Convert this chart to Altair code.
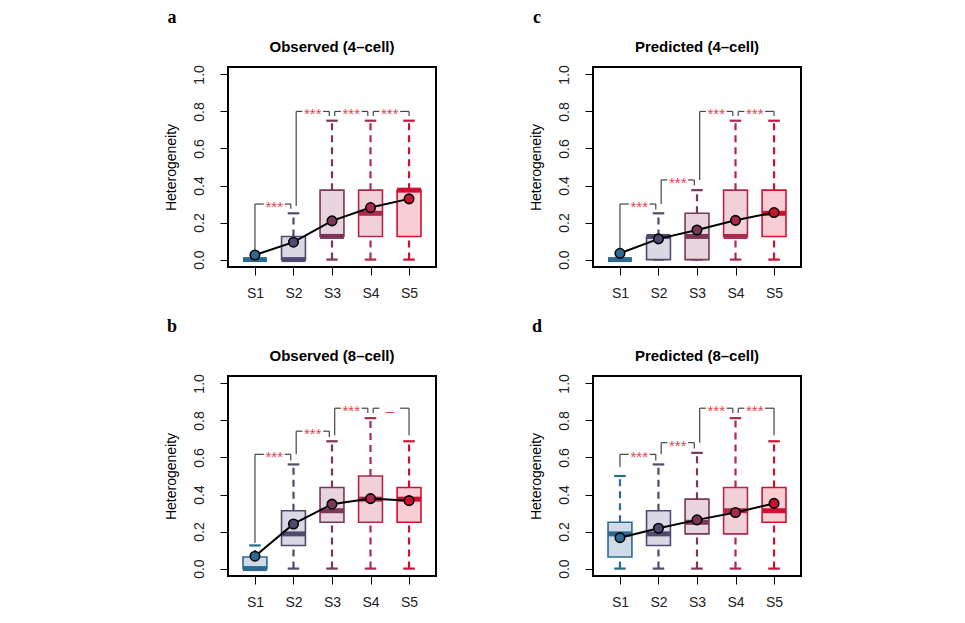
import altair as alt
import pandas as pd

# ---------------- data ----------------
stages = ["S1", "S2", "S3", "S4", "S5"]
positions = [1, 2, 3, 4, 5]
stroke_colors = ["#2c6a90", "#4f4a6e", "#7b3757", "#ad2a4b", "#cf1130"]
fill_colors = ["#cfdce8", "#d9d8e4", "#e7d4dc", "#f1d0d7", "#f8ced4"]
star_color = "#e8414f"
bracket_color = "#444444"

panel_letters = ["a", "c", "b", "d"]
panel_titles = ["Observed (4\u2013cell)", "Predicted (4\u2013cell)",
                "Observed (8\u2013cell)", "Predicted (8\u2013cell)"]

y_ticks = [0.0, 0.2, 0.4, 0.6, 0.8, 1.0]

# Observed (4-cell)
obs4_lo = [0, 0, 0, 0, 0]
obs4_q1 = [0, 0, 0.125, 0.125, 0.125]
obs4_med = [0, 0, 0.125, 0.25, 0.375]
obs4_q3 = [0, 0.125, 0.375, 0.375, 0.375]
obs4_hi = [0, 0.25, 0.75, 0.75, 0.75]
obs4_mean = [0.025, 0.094, 0.209, 0.281, 0.328]
# (from, to, level, left leg bottom, right leg bottom, label)
obs4_brackets = [(1, 2, 0.30, 0.05, 0.275, "***"),
                 (2, 3, 0.80, 0.29, 0.775, "***"),
                 (3, 4, 0.80, 0.775, 0.775, "***"),
                 (4, 5, 0.80, 0.775, 0.775, "***")]

# Predicted (4-cell)
pred4_lo = [0, 0, 0, 0, 0]
pred4_q1 = [0, 0, 0, 0.125, 0.125]
pred4_med = [0, 0.125, 0.125, 0.125, 0.25]
pred4_q3 = [0, 0.125, 0.25, 0.375, 0.375]
pred4_hi = [0, 0.25, 0.375, 0.75, 0.75]
pred4_mean = [0.034, 0.112, 0.16, 0.212, 0.254]
pred4_brackets = [(1, 2, 0.30, 0.06, 0.27, "***"),
                  (2, 3, 0.43, 0.30, 0.40, "***"),
                  (3, 4, 0.80, 0.43, 0.775, "***"),
                  (4, 5, 0.80, 0.775, 0.775, "***")]

# Observed (8-cell)
obs8_lo = [0, 0, 0, 0, 0]
obs8_q1 = [0, 0.125, 0.25, 0.25, 0.25]
obs8_med = [0, 0.1875, 0.3125, 0.375, 0.375]
obs8_q3 = [0.0625, 0.3125, 0.4375, 0.5, 0.4375]
obs8_hi = [0.125, 0.5625, 0.6875, 0.8125, 0.6875]
obs8_mean = [0.067, 0.241, 0.348, 0.378, 0.367]
obs8_brackets = [(1, 2, 0.617, 0.14, 0.584, "***"),
                 (2, 3, 0.742, 0.617, 0.71, "***"),
                 (3, 4, 0.866, 0.72, 0.84, "***"),
                 (4, 5, 0.866, 0.84, 0.72, "\u2013")]

# Predicted (8-cell)
pred8_lo = [0, 0, 0, 0, 0]
pred8_q1 = [0.0625, 0.125, 0.1875, 0.1875, 0.25]
pred8_med = [0.1875, 0.1875, 0.25, 0.3125, 0.3125]
pred8_q3 = [0.25, 0.3125, 0.375, 0.4375, 0.4375]
pred8_hi = [0.5, 0.5625, 0.625, 0.8125, 0.6875]
pred8_mean = [0.167, 0.218, 0.263, 0.303, 0.352]
pred8_brackets = [(1, 2, 0.617, 0.548, 0.584, "***"),
                  (2, 3, 0.68, 0.617, 0.648, "***"),
                  (3, 4, 0.866, 0.68, 0.84, "***"),
                  (4, 5, 0.866, 0.84, 0.72, "***")]

# ---------------- styling constants ----------------
HALF_BOX = 0.31
HALF_CAP = 0.15
LEG_OFF = 0.07
GAP = 0.27
FONT = "Liberation Sans"
W, H = 208, 200

x_scale = alt.Scale(domain=[0.3, 5.7], nice=False, zero=False)
y_scale = alt.Scale(domain=[-0.04, 1.04], nice=False, zero=False)
label_expr = "[" + ",".join("'%s'" % s for s in stages) + "][datum.value - 1]"
x_axis = alt.Axis(values=positions, labelExpr=label_expr, title=None,
                  tickSize=8, labelPadding=11, labelFontSize=14)
y_axis = alt.Axis(values=y_ticks, format=".1f", title="Heterogeneity",
                  labelAngle=270, labelAlign="center", labelBaseline="bottom",
                  tickSize=8, labelPadding=14, labelFontSize=14,
                  titleFontSize=14, titleFontWeight="normal", titlePadding=14)


def X(field):
    return alt.X(field, type="quantitative", scale=x_scale, axis=x_axis)


def Y(field):
    return alt.Y(field, type="quantitative", scale=y_scale, axis=y_axis)


color_enc = alt.Color("stage:N", scale=alt.Scale(domain=stages, range=stroke_colors), legend=None)
stroke_enc = alt.Stroke("stage:N", scale=alt.Scale(domain=stages, range=stroke_colors), legend=None)
fill_enc = alt.Fill("stage:N", scale=alt.Scale(domain=stages, range=fill_colors), legend=None)


def bracket_tables(brackets):
    nodes_left = {b[0] for b in brackets}
    nodes_right = {b[1] for b in brackets}
    segs, labels = [], []
    for (i, j, level, lb, rb, lab) in brackets:
        xl = i + (LEG_OFF if i in nodes_right else 0)
        xr = j - (LEG_OFF if j in nodes_left else 0)
        mid = (i + j) / 2
        segs.append({"x": xl, "x2": xl, "y": lb, "y2": level})
        segs.append({"x": xr, "x2": xr, "y": rb, "y2": level})
        segs.append({"x": xl, "x2": mid - GAP, "y": level, "y2": level})
        segs.append({"x": mid + GAP, "x2": xr, "y": level, "y2": level})
        labels.append({"x": mid, "y": level, "label": lab})
    return pd.DataFrame(segs), pd.DataFrame(labels)


def panel(letter, title, lo, q1, med, q3, hi, mean, brackets):
    df = pd.DataFrame({"stage": stages, "pos": positions, "lo": lo, "q1": q1,
                       "med": med, "q3": q3, "hi": hi, "mean": mean})
    base = alt.Chart(df).transform_calculate(
        xl="datum.pos - %f" % HALF_BOX, xr="datum.pos + %f" % HALF_BOX,
        cl="datum.pos - %f" % HALF_CAP, cr="datum.pos + %f" % HALF_CAP)

    whisk_up = base.mark_rule(strokeWidth=2.2, strokeDash=[7, 5]).encode(
        x=X("pos"), y=Y("q3"), y2="hi", color=color_enc)
    whisk_dn = base.mark_rule(strokeWidth=2.2, strokeDash=[7, 5]).encode(
        x=X("pos"), y=Y("lo"), y2="q1", color=color_enc)
    cap_up = base.mark_rule(strokeWidth=2.2).encode(
        x=X("cl"), x2="cr", y=Y("hi"), color=color_enc)
    cap_dn = base.mark_rule(strokeWidth=2.2).encode(
        x=X("cl"), x2="cr", y=Y("lo"), color=color_enc)
    box = base.mark_rect(strokeWidth=1.6).encode(
        x=X("xl"), x2="xr", y=Y("q1"), y2="q3", fill=fill_enc, stroke=stroke_enc)
    median = base.mark_rule(strokeWidth=5).encode(
        x=X("xl"), x2="xr", y=Y("med"), color=color_enc)

    seg_df, lab_df = bracket_tables(brackets)
    br = alt.Chart(seg_df).mark_rule(color=bracket_color, strokeWidth=1.2).encode(
        x=X("x"), x2="x2", y=Y("y"), y2="y2")
    stars = alt.Chart(lab_df).mark_text(color=star_color, fontSize=15, font=FONT,
                                        baseline="middle", dy=3).encode(
        x=X("x"), y=Y("y"), text="label:N")

    mline = base.mark_line(color="black", strokeWidth=2).encode(
        x=X("pos"), y=Y("mean"), order="pos:Q")
    mpts = base.mark_circle(size=90, opacity=1, stroke="black", strokeWidth=1.6).encode(
        x=X("pos"), y=Y("mean"), color=color_enc)

    head = pd.DataFrame({"letter": [letter], "title": [title]})
    letter_layer = alt.Chart(head).mark_text(
        font="Liberation Serif", fontWeight="bold", fontSize=18, color="black",
        baseline="middle", align="center").encode(
        x=alt.value(-56), y=alt.value(-49), text="letter:N")
    title_layer = alt.Chart(head).mark_text(
        font=FONT, fontWeight="bold", fontSize=15, color="black",
        baseline="middle", align="center").encode(
        x=alt.value(W / 2), y=alt.value(-20), text="title:N")

    return alt.layer(whisk_up, whisk_dn, cap_up, cap_dn, box, median, br, stars,
                     mline, mpts, letter_layer, title_layer).properties(width=W, height=H)


pa = panel(panel_letters[0], panel_titles[0], obs4_lo, obs4_q1, obs4_med, obs4_q3,
           obs4_hi, obs4_mean, obs4_brackets)
pc = panel(panel_letters[1], panel_titles[1], pred4_lo, pred4_q1, pred4_med, pred4_q3,
           pred4_hi, pred4_mean, pred4_brackets)
pb = panel(panel_letters[2], panel_titles[2], obs8_lo, obs8_q1, obs8_med, obs8_q3,
           obs8_hi, obs8_mean, obs8_brackets)
pd_ = panel(panel_letters[3], panel_titles[3], pred8_lo, pred8_q1, pred8_med, pred8_q3,
            pred8_hi, pred8_mean, pred8_brackets)

chart = alt.vconcat(
    alt.hconcat(pa, pc, spacing=91),
    alt.hconcat(pb, pd_, spacing=91),
    spacing=16,
).properties(
    padding={"left": 155, "top": 0, "right": 5, "bottom": 5},
    background="white",
).configure_view(
    stroke="black", strokeWidth=2
).configure_axis(
    labelFont=FONT, titleFont=FONT, labelColor="#222222", titleColor="black",
    tickColor="black", tickWidth=1, domain=False, grid=False
)

chart.save("out.html", embed_options={"renderer": "svg", "actions": False})
